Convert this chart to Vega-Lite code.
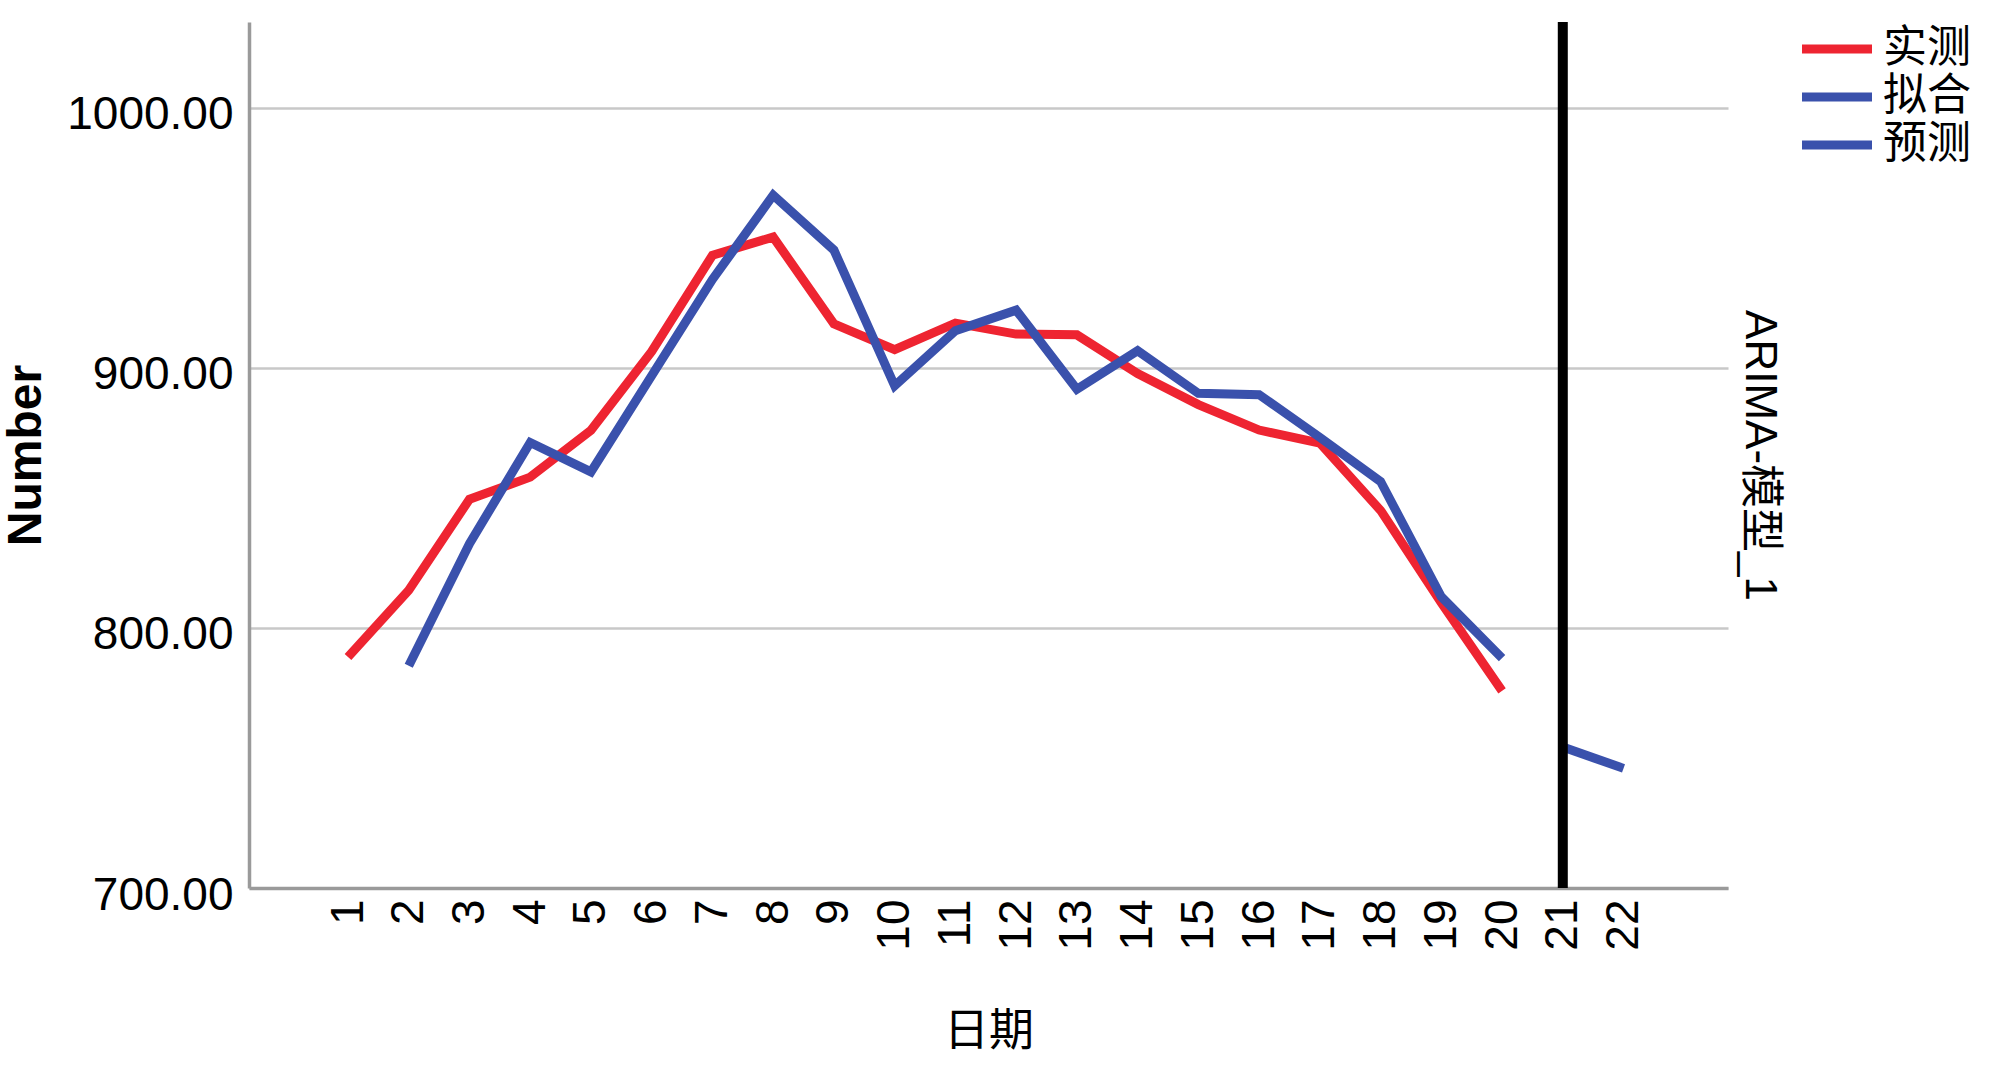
{
  "$schema": "https://vega.github.io/schema/vega-lite/v6.json",
  "width": 1479,
  "height": 866,
  "autosize": {"type": "none"},
  "padding": {"left": 249, "top": 22, "right": 272, "bottom": 181},
  "background": "white",
  "config": {"view": {"stroke": null}, "font": "Liberation Sans"},
  "datasets": {
    "series": [
      {"series": "实测", "day": 1, "value": 788.8},
      {"series": "实测", "day": 2, "value": 814.5},
      {"series": "实测", "day": 3, "value": 849.5},
      {"series": "实测", "day": 4, "value": 858},
      {"series": "实测", "day": 5, "value": 876},
      {"series": "实测", "day": 6, "value": 906.3},
      {"series": "实测", "day": 7, "value": 943.3},
      {"series": "实测", "day": 8, "value": 950.3},
      {"series": "实测", "day": 9, "value": 916.9},
      {"series": "实测", "day": 10, "value": 907},
      {"series": "实测", "day": 11, "value": 917.2},
      {"series": "实测", "day": 12, "value": 913},
      {"series": "实测", "day": 13, "value": 912.7},
      {"series": "实测", "day": 14, "value": 897.8},
      {"series": "实测", "day": 15, "value": 885.9},
      {"series": "实测", "day": 16, "value": 876.1},
      {"series": "实测", "day": 17, "value": 871.1},
      {"series": "实测", "day": 18, "value": 845.2},
      {"series": "实测", "day": 19, "value": 809.7},
      {"series": "实测", "day": 20, "value": 775.8},
      {"series": "拟合", "day": 2, "value": 785.5},
      {"series": "拟合", "day": 3, "value": 832.4},
      {"series": "拟合", "day": 4, "value": 871.3},
      {"series": "拟合", "day": 5, "value": 860},
      {"series": "拟合", "day": 6, "value": 897},
      {"series": "拟合", "day": 7, "value": 934},
      {"series": "拟合", "day": 8, "value": 966.4},
      {"series": "拟合", "day": 9, "value": 945.3},
      {"series": "拟合", "day": 10, "value": 893.1},
      {"series": "拟合", "day": 11, "value": 914.3},
      {"series": "拟合", "day": 12, "value": 922.2},
      {"series": "拟合", "day": 13, "value": 891.8},
      {"series": "拟合", "day": 14, "value": 906.6},
      {"series": "拟合", "day": 15, "value": 890.2},
      {"series": "拟合", "day": 16, "value": 889.7},
      {"series": "拟合", "day": 17, "value": 873.3},
      {"series": "拟合", "day": 18, "value": 856.3},
      {"series": "拟合", "day": 19, "value": 812},
      {"series": "拟合", "day": 20, "value": 788.4},
      {"series": "预测", "day": 21, "value": 754.2},
      {"series": "预测", "day": 22, "value": 746}
    ],
    "divider": [{"day": 21}]
  },
  "layer": [
    {
      "data": {"name": "series"},
      "mark": {"type": "line", "strokeJoin": "miter", "strokeCap": "butt", "strokeWidth": 9},
      "encoding": {
        "x": {
          "field": "day",
          "type": "quantitative",
          "scale": {"domain": [-0.63, 23.72], "nice": false, "zero": false},
          "axis": {
            "values": [1,2,3,4,5,6,7,8,9,10,11,12,13,14,15,16,17,18,19,20,21,22],
            "format": "d",
            "labelAngle": 270,
            "labelFontSize": 46,
            "labelColor": "black",
            "labelPadding": 11,
            "labelFlush": false,
            "labelOverlap": false,
            "ticks": false,
            "grid": false,
            "domainColor": "#9a9a9a",
            "domainWidth": 3.5,
            "title": "日期",
            "titleFont": "Noto Sans CJK SC",
            "titleFontSize": 45,
            "titleFontWeight": "normal",
            "titleColor": "black",
            "titlePadding": 59
          }
        },
        "y": {
          "field": "value",
          "type": "quantitative",
          "scale": {"domain": [700, 1033], "nice": false, "zero": false},
          "axis": {
            "values": [700, 800, 900, 1000],
            "format": ".2f",
            "labelFontSize": 46,
            "labelColor": "black",
            "labelPadding": 16,
            "labelOffset": 7,
            "labelFlush": false,
            "ticks": false,
            "grid": true,
            "gridColor": "#c8c8c8",
            "gridWidth": 2.5,
            "domainColor": "#9a9a9a",
            "domainWidth": 3.5,
            "title": "Number",
            "titleFontSize": 48,
            "titleFontWeight": "bold",
            "titleColor": "black",
            "titlePadding": 16
          }
        },
        "color": {
          "field": "series",
          "type": "nominal",
          "scale": {"domain": ["实测", "拟合", "预测"], "range": ["#EE2431", "#3A51AC", "#3A51AC"]},
          "legend": {
            "orient": "none",
            "legendX": 1566,
            "legendY": 5,
            "title": null,
            "symbolType": "M-2.5,0L2.5,0",
            "symbolSize": 784,
            "symbolStrokeWidth": 9,
            "symbolFillColor": "transparent",
            "labelFont": "Noto Sans CJK SC",
            "labelFontSize": 44,
            "labelColor": "black",
            "labelOffset": 24,
            "rowPadding": 4,
            "labelBaseline": "middle"
          }
        }
      }
    },
    {
      "data": {"name": "divider"},
      "mark": {"type": "rule", "color": "black", "strokeWidth": 10},
      "encoding": {
        "x": {"field": "day", "type": "quantitative"},
        "y": {
          "datum": 700,
          "type": "quantitative",
          "scale": {"domain": [700, 1033], "nice": false, "zero": false},
          "axis": {
            "orient": "right",
            "title": "ARIMA-模型_1",
            "labels": false,
            "ticks": false,
            "domain": false,
            "grid": false,
            "titleFont": "Liberation Sans, Noto Sans CJK SC",
            "titleFontSize": 44,
            "titleFontWeight": "normal",
            "titleColor": "black",
            "titleAngle": 90,
            "titlePadding": 8
          }
        },
        "y2": {"datum": 1033}
      }
    }
  ],
  "resolve": {"scale": {"y": "independent"}, "axis": {"y": "independent"}}
}
